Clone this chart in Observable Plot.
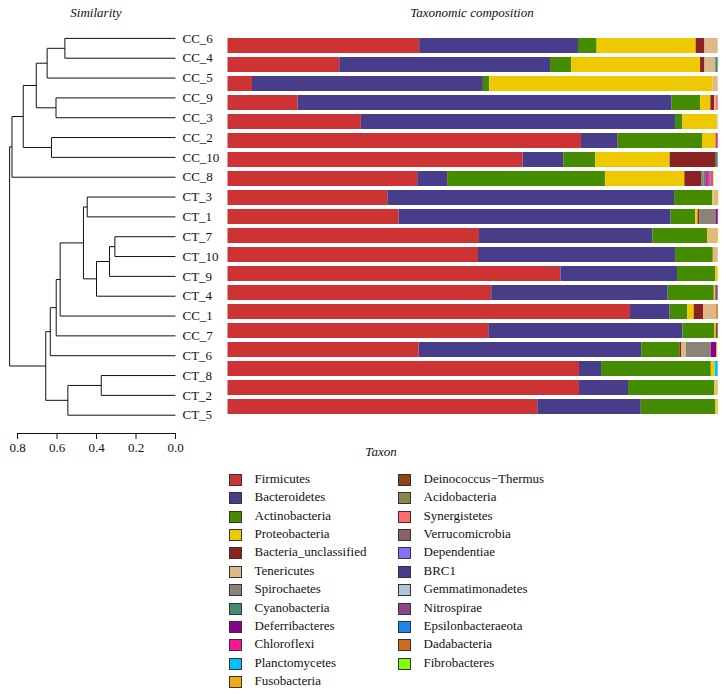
<!DOCTYPE html>
<html>
<head>
<meta charset="utf-8">
<script src="https://cdn.jsdelivr.net/npm/d3@7"></script>
<script src="https://cdn.jsdelivr.net/npm/@observablehq/plot@0.6"></script>
<style>
  body { margin: 0; background: #fff; }
  #wrap { position: relative; width: 726px; height: 694px; font-family: "Liberation Serif", "DejaVu Serif", serif; }
  #wrap svg { font-family: "Liberation Serif", "DejaVu Serif", serif; background: transparent !important; max-width: none !important; }
  .ttl { position: absolute; font-style: italic; font-size: 13px; color: #111; transform: translate(-50%, -50%); white-space: nowrap; }
  #dendro { position: absolute; left: 0; top: 0; width: 226px; z-index: 2; }
  #axis { position: absolute; left: 0; top: 432px; width: 226px; z-index: 2; }
  #bars { position: absolute; left: 226px; top: 0; width: 500px; z-index: 1; }
  #legend { position: absolute; left: 0; top: 470px; width: 726px; }
  .li { position: absolute; font-size: 13px; color: #111; white-space: nowrap; line-height: 14px; }
  .sw { position: absolute; width: 11px; height: 10px; border: 1px solid #333; }
</style>
</head>
<body>
<div id="wrap">
  <div id="dendro"></div>
  <div id="axis"></div>
  <div id="bars"></div>
  <div class="ttl" style="left:96px; top:13px;">Similarity</div>
  <div class="ttl" style="left:472px; top:13px;">Taxonomic composition</div>
  <div class="ttl" style="left:381px; top:452px;">Taxon</div>
  <div id="legend"></div>
</div>
<script>
// ---- Samples (top to bottom) ----
const samples = ["CC_6","CC_4","CC_5","CC_9","CC_3","CC_2","CC_10","CC_8","CT_3","CT_1",
                 "CT_7","CT_10","CT_9","CT_4","CC_1","CC_7","CT_6","CT_8","CT_2","CT_5"];

// ---- Taxa and colours (legend order) ----
const taxa = ["Firmicutes","Bacteroidetes","Actinobacteria","Proteobacteria","Bacteria_unclassified",
  "Tenericutes","Spirochaetes","Cyanobacteria","Deferribacteres","Chloroflexi","Planctomycetes",
  "Fusobacteria","Deinococcus\u2212Thermus","Acidobacteria","Synergistetes","Verrucomicrobia",
  "Dependentiae","BRC1","Gemmatimonadetes","Nitrospirae","Epsilonbacteraeota","Dadabacteria","Fibrobacteres"];
const taxonColors = ["#CD3333","#483D8B","#458B00","#EEC900","#8B2323",
  "#DEB887","#8B8378","#458B74","#8B008B","#FF1493","#00BFFF",
  "#EEAD0E","#8B4513","#8B864E","#FF6A6A","#8B5F65",
  "#8470FF","#4B3C8B","#B0C4DE","#8B4789","#1C86EE","#D2691E","#7FFF00"];

// ---- Relative abundance (%) per taxon, in sample order ----
const Firmicutes      = [39.1,22.8,5.0,14.3,27.2,72.1,60.2,38.7,32.6,34.9,51.3,51.1,67.9,53.8,82.1,53.2,39.0,71.7,71.7,63.2];
const Bacteroidetes   = [32.4,43.0,47.1,76.3,64.1,7.5,8.3,6.1,58.5,55.5,35.4,40.2,23.8,36.0,8.1,39.6,45.4,4.5,10.0,21.1];
const Actinobacteria  = [3.8,4.3,1.3,5.8,1.5,17.2,6.5,32.2,7.8,5.0,11.2,7.7,7.8,9.4,3.6,6.5,7.8,22.4,17.6,15.2];
const Proteobacteria  = [20.2,26.3,45.5,2.1,7.0,2.8,15.2,16.2,0.2,0.5,0.3,0,0.5,0.3,1.3,0.3,0,0.8,0.3,0.3];
const Bacteria_unclassified = [1.8,0.9,0,0.8,0,0,9.4,3.4,0,0.4,0,0,0,0,1.9,0,0.4,0,0,0];
const Tenericutes     = [2.7,2.2,1.1,0.3,0.2,0,0,0,0.8,0,1.5,1.0,0,0,2.7,0,0.9,0,0.4,0];
const Spirochaetes    = [0,0,0,0,0,0,0,0.5,0,3.3,0,0,0,0,0,0,5.1,0,0,0];
const Cyanobacteria   = [0,0.5,0,0,0,0,0.4,0.5,0,0,0,0,0,0,0,0,0,0,0,0];
const Deferribacteres = [0,0,0,0,0,0.2,0,0,0,0.4,0,0,0,0,0,0,1.1,0,0,0];
const Chloroflexi     = [0,0,0,0,0,0.2,0,0.6,0,0,0,0,0,0,0,0,0,0,0,0];
const Planctomycetes  = [0,0,0,0,0,0,0,0,0,0,0,0,0,0,0,0,0,0.6,0,0];
const Fusobacteria    = [0,0,0,0,0,0,0,0,0.2,0,0.3,0,0,0,0,0,0.2,0,0,0.2];
const DeinococcusThermus = [0,0,0,0,0,0,0,0,0,0,0,0,0,0,0,0.4,0,0,0,0];
const Acidobacteria   = [0,0,0,0,0,0,0,0,0,0,0,0,0,0,0,0,0,0,0,0];
const Synergistetes   = [0,0,0,0.4,0,0,0,0,0,0,0,0,0,0,0,0,0,0,0,0];
const Verrucomicrobia = [0,0,0,0,0,0,0,0,0,0,0,0,0,0,0,0,0,0,0,0];
const Dependentiae    = [0,0,0,0,0,0,0,0.4,0,0,0,0,0,0,0,0,0,0,0,0];
const BRC1            = [0,0,0,0,0,0,0,0,0,0,0,0,0,0,0,0,0,0,0,0];
const Gemmatimonadetes= [0,0,0,0,0,0,0,0,0,0,0,0,0,0,0,0,0,0,0,0];
const Nitrospirae     = [0,0,0,0,0,0,0,0,0,0,0,0,0,0.5,0,0,0,0,0,0];
const Epsilonbacteraeota = [0,0,0,0,0,0,0,0,0,0,0,0,0,0,0,0,0,0,0,0];
const Dadabacteria    = [0,0,0,0,0,0,0,0.5,0,0,0,0,0,0,0.3,0,0,0,0,0];
const Fibrobacteres   = [0,0,0,0,0,0,0,0,0,0,0,0,0,0,0,0,0,0,0,0];
const series = [Firmicutes,Bacteroidetes,Actinobacteria,Proteobacteria,Bacteria_unclassified,
  Tenericutes,Spirochaetes,Cyanobacteria,Deferribacteres,Chloroflexi,Planctomycetes,
  Fusobacteria,DeinococcusThermus,Acidobacteria,Synergistetes,Verrucomicrobia,
  Dependentiae,BRC1,Gemmatimonadetes,Nitrospirae,Epsilonbacteraeota,Dadabacteria,Fibrobacteres];

// ---- Cluster merges: [id, left, right, height] ----
const merges = [
  ["A","CC_6","CC_4",0.560],
  ["B","A","CC_5",0.650],
  ["C","CC_9","CC_3",0.605],
  ["D","B","C",0.705],
  ["E","CC_2","CC_10",0.628],
  ["F","D","E",0.771],
  ["G","F","CC_8",0.828],
  ["H","CT_3","CT_1",0.447],
  ["I","CT_7","CT_10",0.307],
  ["J","I","CT_9",0.334],
  ["K","J","CT_4",0.400],
  ["L","H","K",0.466],
  ["M","L","CC_1",0.584],
  ["N","M","CC_7",0.604],
  ["O","N","CT_6",0.634],
  ["P","CT_8","CT_2",0.376],
  ["Q","P","CT_5",0.545],
  ["R","O","Q",0.657],
  ["ROOT","G","R",0.840]
];
const simTicks = [0.8,0.6,0.4,0.2,0.0];

// ---- Build dendrogram segments ----
const pos = new Map(samples.map((s,i)=>[s,{y:i,h:0}]));
const segs = [];
for (const [id,a,b,h] of merges) {
  const pa = pos.get(a), pb = pos.get(b);
  segs.push({x1:pa.h,y1:pa.y,x2:h,y2:pa.y});
  segs.push({x1:pb.h,y1:pb.y,x2:h,y2:pb.y});
  segs.push({x1:h,y1:pa.y,x2:h,y2:pb.y});
  pos.set(id,{y:(pa.y+pb.y)/2,h});
}
const leaves = samples.map((s,i)=>({s,i}));

const dendro = Plot.plot({
  width: 226, height: 432,
  marginLeft: 17, marginRight: 51, marginTop: 0, marginBottom: 0,
  x: {domain:[0.8,0], axis: null},
  y: {domain:[0,19], range:[37.9,414.7], axis: null},
  style: {fontSize:"13px", fontFamily:"Liberation Serif, serif", color:"#111", background:"transparent", overflow:"visible"},
  marks: [
    Plot.link(segs,{x1:"x1",y1:"y1",x2:"x2",y2:"y2",stroke:"#111",strokeWidth:1}),
    Plot.text(leaves,{x:()=>0,y:"i",text:"s",dx:7,textAnchor:"start",fill:"#111",fontSize:13})
  ]
});
document.getElementById("dendro").appendChild(dendro);

// ---- Similarity axis (same x scale as the dendrogram) ----
const axis = Plot.plot({
  width: 226, height: 34,
  marginLeft: 17, marginRight: 51, marginTop: 1, marginBottom: 27,
  x: {domain:[0.8,0], axis: null},
  y: {domain:[0,1], axis: null},
  style: {fontSize:"13px", fontFamily:"Liberation Serif, serif", color:"#111", background:"transparent", overflow:"visible"},
  marks: [
    Plot.ruleY([1],{stroke:"#111", strokeWidth:1}),
    Plot.ruleX(simTicks,{x:d=>d, stroke:"#111", strokeWidth:1}),
    Plot.text(simTicks,{x:d=>d, text:d3.format(".1f"), frameAnchor:"bottom", dy:12, fill:"#111", fontSize:13})
  ]
});
document.getElementById("axis").appendChild(axis);

// ---- Stacked bars ----
const rows = [];
samples.forEach((s,i)=>{
  taxa.forEach((t,k)=>{ rows.push({sample:s, taxon:t, value:series[k][i]}); });
});
const bars = Plot.plot({
  width: 500, height: 440,
  marginLeft: 1.5, marginRight: 8.3, marginTop: 30, marginBottom: 17.3,
  x: {domain:[0,100], axis:null},
  y: {domain: samples, axis:null, paddingInner:0.2, paddingOuter:0},
  color: {domain: taxa, range: taxonColors},
  style: {background:"transparent"},
  marks: [
    Plot.barX(rows,{y:"sample", x:"value", fill:"taxon", z:"taxon"})
  ]
});
document.getElementById("bars").appendChild(bars);

// ---- Legend ----
const leg = document.getElementById("legend");
taxa.forEach((t,k)=>{
  const col = k < 12 ? 0 : 1;
  const r = k < 12 ? k : k-12;
  const sx = col===0 ? 228.5 : 397.5;
  const tx = col===0 ? 254.5 : 423.5;
  const y = 9 + r*18.36;
  const sw = document.createElement("div");
  sw.className = "sw";
  sw.style.left = sx+"px"; sw.style.top = (y-5)+"px"; sw.style.background = taxonColors[k];
  leg.appendChild(sw);
  const lb = document.createElement("div");
  lb.className = "li";
  lb.style.left = tx+"px"; lb.style.top = (y-7)+"px";
  lb.textContent = t;
  leg.appendChild(lb);
});
</script>
</body>
</html>
